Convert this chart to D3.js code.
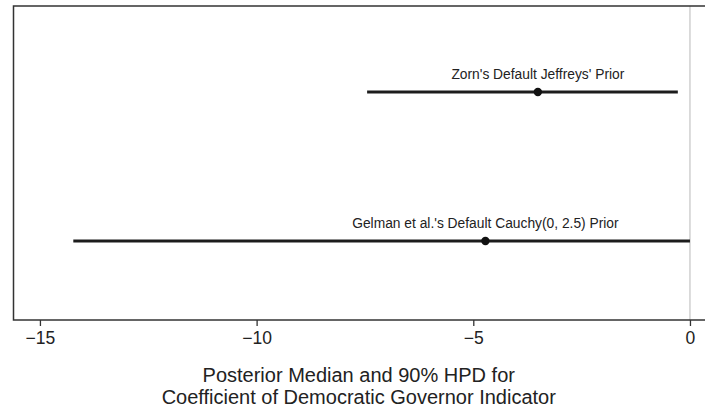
<!DOCTYPE html>
<html>
<head>
<meta charset="utf-8">
<script src="https://cdn.jsdelivr.net/npm/d3@7"></script>
<style>
  html, body { margin: 0; padding: 0; background: #fff; }
  svg { display: block; }
  text { font-family: "Liberation Sans", Arial, Helvetica, sans-serif; fill: #222; }
</style>
</head>
<body>
<svg id="chart" width="705" height="407"></svg>
<script>
// Data
const priors = ["Gelman et al.'s Default Cauchy(0, 2.5) Prior", "Zorn's Default Jeffreys' Prior"];
const medians = [-4.72, -3.51];
const lower = [-14.23, -7.45];
const upper = [0.0, -0.28];
const tickValues = [-15, -10, -5, 0];
const axisTitle = ["Posterior Median and 90% HPD for", "Coefficient of Democratic Governor Indicator"];

const W = 705, H = 407;
const mLeft = 13.5, mRight = 706, mTop = 6, mBottom = 320;

const svg = d3.select("#chart");

const x = d3.scaleLinear().domain([-15.61, 0.37]).range([mLeft, mRight]);
const y = d3.scaleLinear().domain([0.47, 2.577]).range([mBottom, mTop]);

// zero reference line
svg.append("line")
  .attr("x1", x(0)).attr("x2", x(0))
  .attr("y1", mTop).attr("y2", mBottom)
  .attr("stroke", "#c4c4c4").attr("stroke-width", 1.2);

// frame
svg.append("rect")
  .attr("x", mLeft).attr("y", mTop)
  .attr("width", mRight - mLeft).attr("height", mBottom - mTop)
  .attr("fill", "none").attr("stroke", "#333").attr("stroke-width", 1.5);

// x axis
const axis = d3.axisBottom(x)
  .tickValues(tickValues)
  .tickSize(6)
  .tickPadding(6)
  .tickFormat(d => d3.format("")(d).replace("-", "\u2212"));
const gx = svg.append("g").attr("transform", `translate(0,${mBottom})`).call(axis);
gx.select(".domain").remove();
gx.selectAll(".tick line").attr("stroke", "#333").attr("stroke-width", 1.3);
gx.selectAll(".tick text")
  .attr("font-size", 17.5)
  .attr("fill", "#222")
  .style("font-family", '"Liberation Sans", Arial, sans-serif');

// axis title
svg.append("text")
  .attr("text-anchor", "middle")
  .attr("font-size", 20)
  .selectAll("tspan")
  .data(axisTitle)
  .join("tspan")
  .attr("x", (mLeft + 704) / 2)
  .attr("y", (d, i) => 382 + i * 22)
  .text(d => d);

// intervals
const rows = priors.map((p, i) => ({ p, m: medians[i], lo: lower[i], hi: upper[i], pos: i + 1 }));

const g = svg.append("g");
g.selectAll("line.ci").data(rows).join("line")
  .attr("class", "ci")
  .attr("x1", d => x(d.lo)).attr("x2", d => x(d.hi))
  .attr("y1", d => y(d.pos)).attr("y2", d => y(d.pos))
  .attr("stroke", "#1c1c1c").attr("stroke-width", 3);

g.selectAll("circle").data(rows).join("circle")
  .attr("cx", d => x(d.m)).attr("cy", d => y(d.pos))
  .attr("r", 4.2).attr("fill", "#111");

g.selectAll("text.lab").data(rows).join("text")
  .attr("class", "lab")
  .attr("x", d => x(d.m))
  .attr("y", d => y(d.pos) - 13)
  .attr("text-anchor", "middle")
  .attr("font-size", 13.8)
  .text(d => d.p);
</script>
</body>
</html>
